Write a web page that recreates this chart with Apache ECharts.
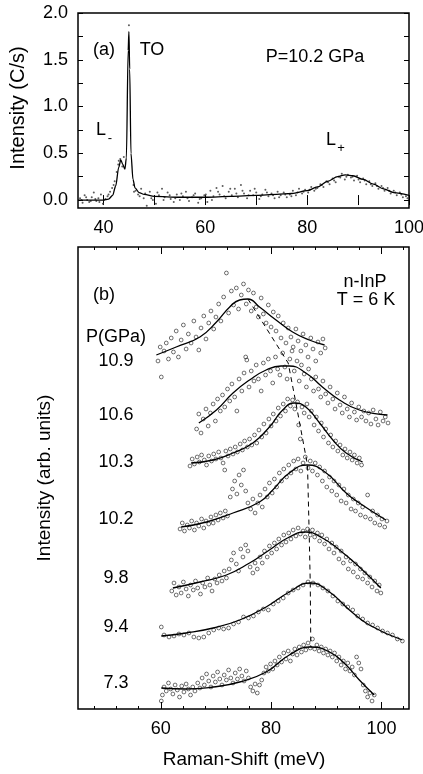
<!DOCTYPE html>
<html lang="en">
<head>
    <meta charset="UTF-8">
    <title>InP Raman</title>
    <style>
        * { margin: 0; padding: 0; }
        html, body { height: 100%; width: 100%; background: #fff; }
    </style>
    <script src="https://cdn.jsdelivr.net/npm/echarts@6/dist/echarts.min.js"></script>
</head>
<body>
<div id="main" style="width: 423px;height: 774px;"></div>
<script>
    // panel (a): spectrum at 10.2 GPa, intensity in C/s
    var aDots = [[35.4,0.02],[35.9,-0.03],[36.3,0.05],[36.8,0.0],[37.2,-0.02],[37.7,0.03],[38.1,0.08],[38.6,-0.01],[39.0,0.02],[39.5,0.06],
        [39.9,-0.04],[40.4,0.01],[40.8,0.04],[41.3,0.09],[41.7,0.13],[42.2,0.2],[42.6,0.3],[43.0,0.42],[43.3,0.44],[43.7,0.36],
        [44.0,0.46],[45.0,1.87],[45.9,0.16],[46.3,0.1],[46.8,0.06],[47.4,0.12],[47.9,0.02],[48.5,-0.06],[49.1,0.09],[49.7,0.0],
        [50.3,-0.04],[50.9,0.05],[51.5,0.12],[52.0,0.03],[52.6,0.08],[53.2,0.01],[53.8,-0.02],[54.4,0.06],[55.0,0.0],[55.6,0.04],
        [56.2,0.09],[56.8,-0.01],[57.4,0.03],[58.0,0.07],[58.6,-0.03],[59.2,0.02],[59.8,0.05],[60.4,-0.02],[61.0,0.1],[61.6,0.04],
        [62.2,0.13],[62.8,0.06],[63.4,0.15],[64.0,0.02],[64.6,0.09],[65.2,0.05],[65.8,0.12],[66.4,0.03],[67.0,0.16],[67.6,0.07],
        [68.2,0.02],[68.8,0.1],[69.4,0.05],[70.0,0.08],[70.6,0.01],[71.2,0.06],[71.8,0.11],[72.4,0.04],[73.0,0.07],[73.6,0.02],
        [74.2,0.09],[74.8,0.05],[75.4,0.08],[76.0,0.03],[76.6,0.06],[77.2,0.1],[77.8,0.05],[78.4,0.12],[79.0,0.07],[79.6,0.11],
        [80.2,0.08],[80.8,0.14],[81.4,0.1],[82.0,0.13],[82.6,0.17],[83.2,0.14],[83.8,0.2],[84.4,0.17],[85.0,0.23],[85.6,0.19],
        [86.2,0.25],[86.8,0.28],[87.4,0.22],[88.0,0.27],[88.6,0.24],[89.2,0.21],[89.8,0.26],[90.4,0.19],[91.0,0.23],[91.6,0.17],
        [92.2,0.2],[92.8,0.15],[93.4,0.18],[94.0,0.12],[94.6,0.15],[95.2,0.1],[95.8,0.13],[96.4,0.07],[97.0,0.1],[97.6,0.05],
        [98.2,0.08],[98.8,0.03],[99.4,0.04],
        [35.7,0.0],[36.6,0.03],[37.5,-0.01],[38.4,0.01],[39.2,-0.02],[40.1,0.0],[41.0,0.06],[42.0,0.16],[42.9,0.38],[46.0,0.09],
        [47.1,0.04],[48.2,0.07],[49.4,0.02],[50.6,0.08],[51.8,0.0],[53.0,0.05],[54.1,0.02],[55.3,0.07],[56.5,0.02],[57.7,0.05],
        [58.9,0.01],[60.1,0.06],[61.3,0.0],[62.5,0.09],[63.7,0.04],[64.9,0.12],[66.1,0.07],[67.3,0.1],[68.5,0.05],[69.7,0.12],
        [70.9,0.04],[72.1,0.08],[73.3,0.05],[74.5,0.03],[75.7,0.06],[76.9,0.04],[78.1,0.08],[79.3,0.09],[80.5,0.11],[81.7,0.12],
        [82.9,0.16],[84.1,0.19],[85.3,0.21],[86.5,0.24],[87.7,0.25],[88.9,0.25],[90.1,0.22],[91.3,0.21],[92.5,0.17],[93.7,0.15],
        [94.9,0.13],[96.1,0.1],[97.3,0.08],[98.5,0.06],[99.7,0.02]];
    var aFit = [[35,0.0],[37,0.0],[39,0.0],[40,0.0],[41,0.01],[41.8,0.05],[42.4,0.15],[43.0,0.35],[43.4,0.43],[43.8,0.38],
        [44.2,0.33],[44.5,0.45],[44.85,1.6],[45.0,1.8],[45.15,1.4],[45.4,0.5],[45.8,0.22],[46.2,0.13],[47,0.08],[48,0.06],
        [50,0.04],[55,0.03],[60,0.03],[65,0.04],[70,0.05],[74,0.06],[77,0.07],[80,0.1],[82,0.14],[84,0.2],[86,0.25],
        [87.5,0.27],[89,0.26],[91,0.22],[93,0.17],[95,0.12],[97,0.08],[100,0.05]];

    // panel (b): offset spectra, arbitrary units (0 = bottom of frame)
    var pressures = ['10.9', '10.6', '10.3', '10.2', '9.8', '9.4', '7.3'];
    var fit109 = [[59.2,354],[62.8,362],[67.1,372],[70.1,387],[72.5,402],[74.3,409],[75.8,410],[77.9,402],[80.9,389],[83.9,377],[86.9,369],[89.7,364]];
    var fit106 = [[66.9,286],[70.1,299],[73.1,316],[76.1,329],[79.1,339],[81.8,343],[83.3,343],[86.3,336],[89.3,322],[92.4,309],[96.0,299],[101.1,294]];
    var fit103 = [[65.5,246],[69.5,249],[73.1,256],[76.7,266],[79.7,282],[82.1,299],[84.2,306],[86.3,302],[88.8,286],[91.2,269],[93.6,256],[96.6,247]];
    var fit102 = [[63.7,182],[68.3,187],[73.1,196],[77.9,207],[80.3,219],[83.3,236],[86.6,244],[90.0,236],[93.6,216],[96.0,206],[100.8,189]];
    var fit98 = [[62.2,121],[67.1,127],[71.9,134],[76.1,146],[79.7,159],[83.3,172],[86.3,177],[89.3,171],[92.4,159],[96.0,142],[99.9,121]];
    var fit94 = [[60.1,73],[64.6,76],[69.5,81],[74.3,89],[79.1,102],[83.3,117],[87.1,126],[90.6,117],[94.2,99],[97.8,84],[103.8,69]];
    var fit73 = [[60.1,21],[64.6,20],[69.5,22],[74.3,27],[79.1,37],[83.3,54],[87.2,62],[90.6,57],[93.6,44],[96.0,29],[98.7,14]];
    var peakLine = [[75.8,410],[83.1,346],[84.5,306],[86.6,244],[86.9,177],[87.1,126],[87.2,62]];

    var pts109 = [[59.5,348],[59.9,362],[60.1,332],[60.6,358],[61.0,366],[61.4,350],[61.9,371],[62.3,357],[62.8,378],[63.2,352],
        [63.7,369],[64.1,384],[64.6,360],[65.0,375],[65.5,366],[66.0,388],[66.4,372],[66.9,359],[67.3,381],[67.8,393],[68.2,370],
        [68.7,386],[69.1,398],[69.6,380],[70.0,392],[70.5,405],[70.9,388],[71.4,412],[71.9,436],[72.3,396],[72.8,418],[73.2,404],
        [73.7,421],[74.1,400],[74.6,414],[75.0,425],[75.5,405],[75.9,419],[76.4,398],[76.8,416],[77.3,402],[77.7,392],[78.2,411],
        [78.6,395],[79.1,386],[79.5,404],[80.0,382],[80.4,397],[80.9,378],[81.3,393],[81.8,371],[82.2,386],[82.7,366],[83.1,381],
        [83.6,372],[84.0,362],[84.5,380],[84.9,368],[85.4,358],[85.8,375],[86.3,364],[86.7,352],[87.2,371],[87.6,360],[88.1,348],
        [88.5,367],[89.0,356],[89.4,370],[89.8,361]];
    var pts106 = [[66.5,280],[66.9,295],[67.3,276],[67.7,290],[68.2,300],[68.6,283],[69.0,296],[69.5,305],[69.9,288],[70.3,310],
        [70.8,298],[71.2,314],[71.6,302],[72.1,320],[72.5,308],[72.9,325],[73.4,312],[73.8,298],[74.2,330],[74.7,318],[75.1,336],
        [75.4,352],[75.6,349],[76.0,322],[76.4,338],[76.9,328],[77.3,344],[77.7,330],[78.2,318],[78.6,346],[79.0,334],[79.5,350],
        [79.9,338],[80.3,326],[80.8,352],[81.2,340],[81.6,334],[82.1,356],[82.5,342],[82.9,330],[83.4,350],[83.8,358],[84.2,338],
        [84.7,348],[85.1,328],[85.5,344],[86.0,335],[86.4,322],[86.8,340],[87.3,330],[87.7,318],[88.1,332],[88.6,320],[89.0,312],
        [89.4,328],[89.9,315],[90.3,306],[90.7,322],[91.2,310],[91.6,300],[92.0,316],[92.5,304],[92.9,296],[93.3,312],[93.8,300],
        [94.2,292],[94.6,306],[95.1,297],[95.5,289],[95.9,302],[96.4,292],[96.8,298],[97.2,288],[97.7,296],[98.1,285],[98.5,299],
        [99.0,290],[99.4,284],[99.8,297],[100.3,288],[100.7,292],[101.2,286]];
    var pts103 = [[65.3,243],[65.7,250],[66.1,245],[66.6,252],[67.0,247],[67.4,254],[67.9,249],[68.3,244],[68.7,253],[69.2,248],
        [69.6,255],[70.0,250],[70.5,257],[70.9,251],[71.3,246],[71.6,239],[71.8,258],[72.2,253],[72.6,260],[73.1,255],[73.5,262],
        [73.9,257],[74.4,265],[74.8,259],[75.2,268],[75.7,262],[76.1,270],[76.5,264],[77.0,274],[77.4,266],[77.8,279],[78.3,272],
        [78.7,285],[79.1,276],[79.6,290],[80.0,283],[80.4,295],[80.9,288],[81.3,301],[81.7,293],[82.2,305],[82.6,298],[83.0,310],
        [83.5,303],[83.9,309],[84.3,300],[84.8,307],[85.0,284],[85.3,270],[85.6,302],[86.0,296],[86.5,305],[86.9,292],[87.3,298],
        [87.8,284],[88.2,292],[88.6,278],[89.1,286],[89.5,272],[89.9,280],[90.4,266],[90.8,274],[91.2,262],[91.7,268],[92.1,258],
        [92.5,264],[93.0,254],[93.4,260],[93.8,251],[94.3,257],[94.7,249],[95.1,254],[95.6,246],[96.0,251],[96.4,244]];
    var pts102 = [[63.5,180],[63.9,186],[64.3,178],[64.8,184],[65.2,181],[65.6,188],[66.1,179],[66.5,186],[66.9,183],[67.4,190],
        [67.8,181],[68.2,188],[68.7,185],[69.1,192],[69.5,186],[70.0,194],[70.4,189],[70.8,196],[71.3,191],[71.7,198],[72.1,193],
        [72.6,212],[73.0,220],[73.4,228],[73.8,215],[74.2,234],[74.6,224],[75.0,239],[75.4,218],[75.8,206],[76.3,200],[76.7,210],
        [77.1,196],[77.6,206],[78.0,214],[78.4,202],[78.9,220],[79.3,212],[79.7,226],[80.2,216],[80.6,230],[81.0,222],[81.5,236],
        [81.9,228],[82.3,240],[82.8,232],[83.2,244],[83.6,236],[84.1,248],[84.5,240],[84.9,250],[85.4,238],[85.8,246],[86.2,252],
        [86.7,241],[87.1,248],[87.5,238],[88.0,246],[88.4,234],[88.8,242],[89.3,228],[89.7,238],[90.1,222],[90.6,232],[91.0,218],
        [91.4,228],[91.9,214],[92.3,224],[92.7,208],[93.2,220],[93.6,206],[94.0,214],[94.5,200],[94.9,210],[95.3,198],[95.8,206],
        [96.2,194],[96.6,202],[97.1,192],[97.5,214],[98.0,190],[98.4,198],[98.8,186],[99.3,194],[99.7,184],[100.1,190],[100.6,182],
        [101.0,188]];
    var pts98 = [[62.0,118],[62.4,126],[62.8,114],[63.3,122],[63.7,116],[64.1,127],[64.6,120],[65.0,113],[65.4,124],[65.9,119],
        [66.3,128],[66.7,121],[67.2,115],[67.6,126],[68.0,122],[68.5,131],[68.9,124],[69.3,118],[69.8,130],[70.2,126],[70.6,134],
        [71.1,128],[71.5,138],[71.9,131],[72.4,140],[72.8,149],[73.2,156],[73.7,145],[74.1,138],[74.5,160],[74.9,152],[75.4,164],
        [75.8,158],[76.2,142],[76.7,136],[77.1,146],[77.5,140],[78.0,152],[78.4,146],[78.8,158],[79.3,152],[79.7,163],[80.1,156],
        [80.6,166],[81.0,160],[81.4,170],[81.9,164],[82.3,174],[82.7,167],[83.2,176],[83.6,170],[84.0,179],[84.5,173],[84.9,181],
        [85.3,175],[85.8,178],[86.2,172],[86.6,180],[87.1,174],[87.5,179],[87.9,172],[88.4,176],[88.8,168],[89.2,174],[89.7,165],
        [90.1,170],[90.5,160],[91.0,166],[91.4,156],[91.8,162],[92.3,150],[92.7,158],[93.1,146],[93.6,152],[94.0,140],[94.4,148],
        [94.9,137],[95.3,145],[95.7,132],[96.2,140],[96.6,130],[97.0,136],[97.5,126],[97.9,132],[98.3,122],[98.8,128],[99.2,118],
        [99.6,124],[99.9,116]];
    var pts94 = [[60.1,82],[60.6,74],[61.5,72],[62.4,73],[63.3,75],[64.2,74],[65.1,76],[66.0,72],[66.9,71],[67.8,72],[68.7,76],
        [69.6,79],[70.5,81],[71.4,80],[72.3,81],[73.2,85],[74.1,87],[75.0,92],[75.9,91],[76.8,93],[77.7,97],[78.6,100],[79.5,99],
        [80.4,105],[81.3,108],[82.2,111],[83.1,116],[84.0,119],[84.9,121],[85.8,124],[86.7,127],[87.6,126],[88.5,124],[89.4,121],
        [90.3,118],[91.2,113],[92.1,108],[93.0,105],[93.9,102],[94.8,99],[95.7,93],[96.6,90],[97.5,86],[98.4,84],[99.3,81],
        [100.2,78],[101.1,76],[102.0,74],[102.9,70],[103.8,68]];
    var pts73 = [[60.1,8],[60.3,14],[60.6,22],[61.0,18],[61.4,26],[61.8,20],[62.2,15],[62.6,24],[63.0,19],[63.4,12],[63.8,23],
        [64.2,17],[64.6,25],[65.0,20],[65.4,14],[65.8,22],[66.2,18],[66.7,26],[67.1,21],[67.5,31],[67.9,24],[68.3,35],[68.7,28],
        [69.1,22],[69.5,33],[69.9,27],[70.3,37],[70.7,30],[71.1,24],[71.5,34],[71.9,29],[72.3,39],[72.7,31],[73.1,26],[73.5,36],
        [73.9,30],[74.3,40],[74.7,33],[75.1,28],[75.5,38],[75.9,31],[76.3,22],[76.7,18],[77.1,25],[77.5,16],[77.9,24],[78.3,29],
        [78.7,36],[79.1,42],[79.5,38],[79.9,45],[80.3,40],[80.7,48],[81.1,44],[81.5,52],[81.9,47],[82.3,56],[82.7,50],[83.1,58],
        [83.5,48],[83.9,55],[84.3,60],[84.7,54],[85.1,62],[85.5,57],[85.9,64],[86.3,59],[86.7,66],[87.1,61],[87.5,70],[87.9,60],
        [88.3,64],[88.7,58],[89.1,62],[89.5,56],[89.9,60],[90.3,54],[90.7,58],[91.1,52],[91.5,56],[91.9,48],[92.3,52],[92.7,44],
        [93.1,48],[93.5,40],[93.9,46],[94.3,38],[94.7,42],[95.1,34],[95.5,52],[95.9,46],[96.3,40],[96.7,24],[97.1,18],[97.5,12],
        [97.9,16],[98.3,8],[98.7,14]];

    var aTicksX = [40, 50, 60, 70, 80, 90, 100];
    var aLabelsX = [40, 60, 80, 100];
    var aTicksY = [0, 0.25, 0.5, 0.75, 1, 1.25, 1.5, 1.75, 2];
    var aLabelsY = [0, 0.5, 1, 1.5, 2];
    var bMajorX = [60, 80, 100];
    var bMinorX = [48, 52, 56, 64, 68, 72, 76, 84, 88, 92, 96, 104];

    var pts = [pts109, pts106, pts103, pts102, pts98, pts94, pts73];
    var fits = [fit109, fit106, fit103, fit102, fit98, fit94, fit73];
    var labelY = [361, 415, 462, 519, 578, 627, 683];

    var FONT = "'Liberation Sans', Arial, sans-serif";
    var myChart = echarts.init(document.getElementById('main'), null, {renderer: 'canvas'});

    function tickAxis(grid, pos, min, max, ticks, len, labels, fmt) {
        return {
            type: 'value', gridIndex: grid, position: pos, min: min, max: max,
            axisLine: {show: false},
            splitLine: {show: false},
            axisTick: {show: true, inside: true, length: len, customValues: ticks,
                lineStyle: {color: '#000', width: 1}},
            axisLabel: labels ? {show: true, customValues: labels, showMaxLabel: true, showMinLabel: true,
                color: '#000', fontSize: 18, fontFamily: FONT, margin: pos === 'left' ? 10 : 11,
                formatter: fmt} : {show: false}
        };
    }

    var series = [
        {type: 'scatter', xAxisIndex: 0, yAxisIndex: 0, data: aDots, symbolSize: 2,
            itemStyle: {color: '#333'}, silent: true},
        {type: 'line', xAxisIndex: 0, yAxisIndex: 0, data: aFit, smooth: 0.3, smoothMonotone: 'x',
            showSymbol: false, lineStyle: {color: '#000', width: 1.3}, silent: true}
    ];
    for (var i = 0; i < pts.length; i++) {
        series.push({type: 'scatter', xAxisIndex: 2, yAxisIndex: 2, data: pts[i], symbol: 'circle', symbolSize: 3.8,
            itemStyle: {color: 'rgba(0,0,0,0)', borderColor: '#000', borderWidth: 0.7}, silent: true});
        series.push({type: 'line', xAxisIndex: 2, yAxisIndex: 2, data: fits[i], smooth: 0.5,
            showSymbol: false, lineStyle: {color: '#000', width: 1.3}, silent: true});
    }
    series.push({type: 'line', xAxisIndex: 2, yAxisIndex: 2, data: peakLine, showSymbol: false,
        lineStyle: {color: '#000', width: 1, type: [5, 4]}, silent: true});

    var texts = [
        {t: '(a)', x: 104, y: 50, s: 18},
        {t: 'TO', x: 152, y: 50, s: 18},
        {t: 'P=10.2 GPa', x: 315, y: 57, s: 18},
        {t: 'L', x: 101, y: 130, s: 18},
        {t: '-', x: 110, y: 138, s: 13},
        {t: 'L', x: 331, y: 140, s: 18},
        {t: '+', x: 341, y: 148, s: 13},
        {t: '(b)', x: 104, y: 295, s: 18},
        {t: 'n-InP', x: 365, y: 282, s: 18},
        {t: 'T = 6 K', x: 366, y: 300, s: 18},
        {t: 'P(GPa)', x: 116, y: 337, s: 18},
        {t: 'Raman-Shift (meV)', x: 244, y: 760, s: 19}
    ];
    var graphic = texts.map(function (d) {
        return {type: 'text', x: d.x, y: d.y, silent: true,
            style: {text: d.t, font: d.s + 'px ' + FONT, fill: '#000',
                textAlign: 'center', textVerticalAlign: 'middle', align: 'center', verticalAlign: 'middle'}};
    });
    for (var k = 0; k < pressures.length; k++) {
        graphic.push({type: 'text', x: 116, y: labelY[k], silent: true,
            style: {text: pressures[k], font: '18px ' + FONT, fill: '#000',
                textAlign: 'center', textVerticalAlign: 'middle', align: 'center', verticalAlign: 'middle'}});
    }
    graphic.push({type: 'text', x: 18, y: 108, rotation: Math.PI / 2, silent: true,
        style: {text: 'Intensity (C/s)', font: '20px ' + FONT, fill: '#000',
            textAlign: 'center', textVerticalAlign: 'middle', align: 'center', verticalAlign: 'middle'}});
    graphic.push({type: 'text', x: 45, y: 478, rotation: Math.PI / 2, silent: true,
        style: {text: 'Intensity (arb. units)', font: '19px ' + FONT, fill: '#000',
            textAlign: 'center', textVerticalAlign: 'middle', align: 'center', verticalAlign: 'middle'}});

    var option = {
        animation: false,
        backgroundColor: '#fff',
        grid: [
            {left: 78, top: 13, width: 331, height: 195, show: true, borderColor: '#000', borderWidth: 1.5,
                containLabel: false, outerBoundsMode: 'none'},
            {left: 78, top: 247, width: 331, height: 462, show: true, borderColor: '#000', borderWidth: 1.5,
                containLabel: false, outerBoundsMode: 'none'}
        ],
        xAxis: [
            tickAxis(0, 'bottom', 35, 100, aTicksX, 5, aLabelsX),
            tickAxis(0, 'top', 35, 100, aTicksX, 5, null),
            tickAxis(1, 'bottom', 45, 105, bMajorX, 7, bMajorX),
            tickAxis(1, 'bottom', 45, 105, bMinorX, 3, null),
            tickAxis(1, 'top', 45, 105, bMajorX, 7, null),
            tickAxis(1, 'top', 45, 105, bMinorX, 3, null)
        ],
        yAxis: [
            tickAxis(0, 'left', -0.085, 2.0, aTicksY, 5, aLabelsY, function (v) { return v.toFixed(1); }),
            tickAxis(0, 'right', -0.085, 2.0, aTicksY, 5, null),
            {type: 'value', gridIndex: 1, min: 0, max: 462, axisLine: {show: false}, axisTick: {show: false},
                axisLabel: {show: false}, splitLine: {show: false}}
        ],
        graphic: graphic,
        series: series
    };
    myChart.setOption(option);
</script>
</body>
</html>
